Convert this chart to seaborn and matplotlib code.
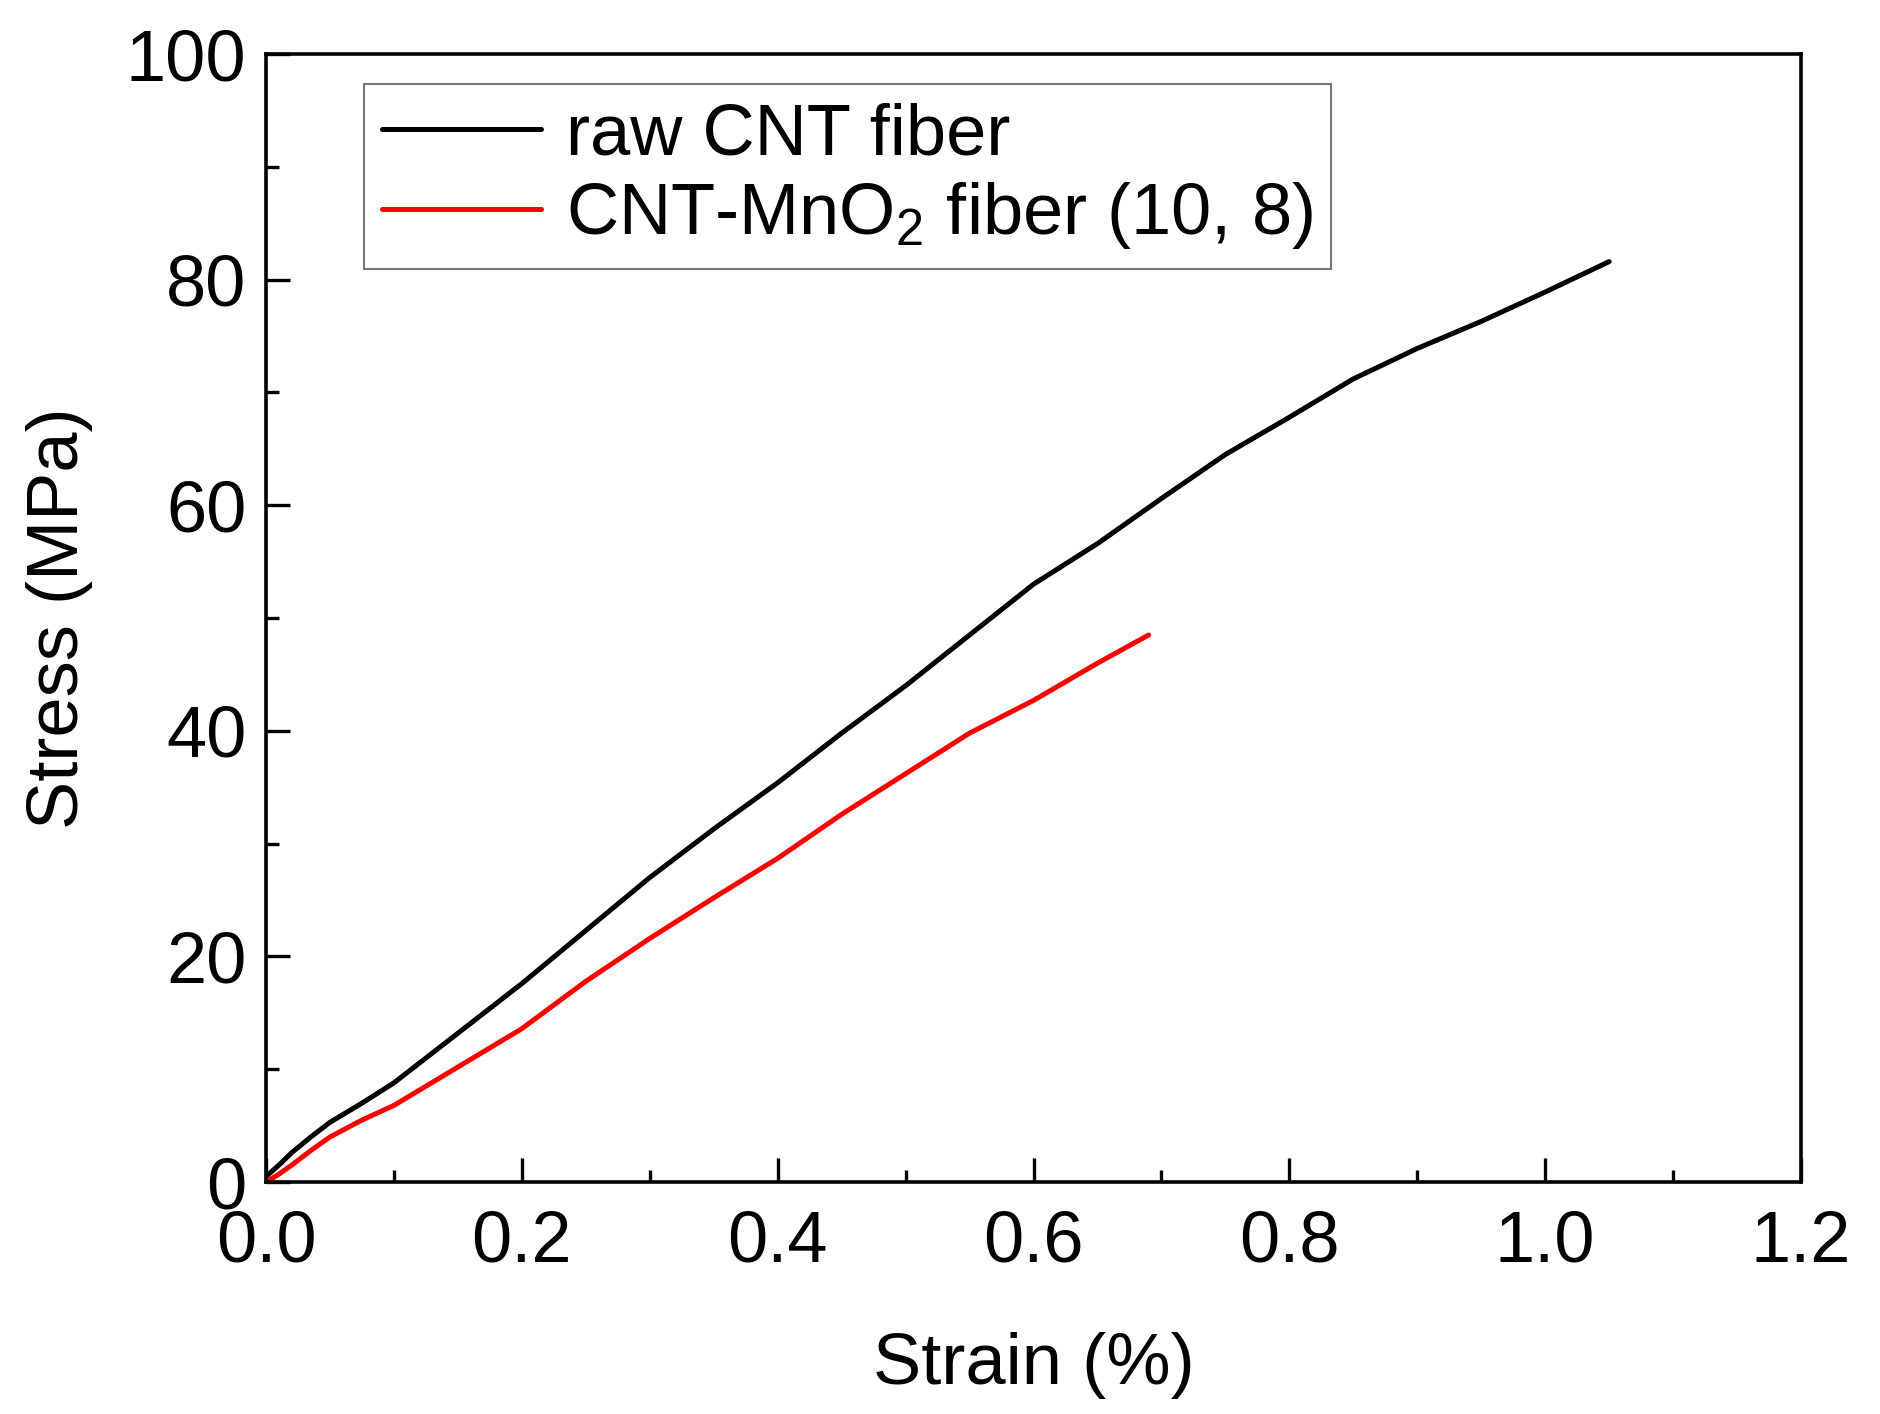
import numpy as np
import pandas as pd
import matplotlib
matplotlib.use("Agg")
import matplotlib.pyplot as plt
import seaborn as sns

# values
raw_strain = [0.0, 0.01, 0.02, 0.035, 0.05, 0.075, 0.1, 0.15, 0.2, 0.25, 0.3, 0.35, 0.4,
              0.45, 0.5, 0.55, 0.6, 0.65, 0.7, 0.75, 0.8, 0.85, 0.9, 0.95, 1.0, 1.05]
raw_stress = [0.5, 1.5, 2.6, 4.0, 5.3, 7.0, 8.8, 13.2, 17.6, 22.3, 27.0, 31.3, 35.4,
              39.8, 44.0, 48.5, 53.0, 56.6, 60.6, 64.5, 67.8, 71.2, 73.9, 76.3, 78.9, 81.6]

mno2_strain = [0.0, 0.01, 0.02, 0.035, 0.05, 0.075, 0.1, 0.15, 0.2, 0.25, 0.3, 0.35,
               0.4, 0.45, 0.5, 0.55, 0.6, 0.65, 0.69]
mno2_stress = [0.0, 0.7, 1.5, 2.8, 4.0, 5.5, 6.8, 10.2, 13.6, 17.8, 21.6, 25.2,
               28.7, 32.6, 36.2, 39.8, 42.7, 46.0, 48.5]

labels = ["raw CNT fiber", "CNT-MnO$_2$ fiber (10, 8)"]
colors = ["black", "#ff0000"]

df = pd.concat([
    pd.DataFrame({"strain": raw_strain, "stress": raw_stress, "sample": labels[0]}),
    pd.DataFrame({"strain": mno2_strain, "stress": mno2_stress, "sample": labels[1]}),
])

sns.set_theme(style="ticks")
plt.rcParams["font.family"] = ["Liberation Sans", "DejaVu Sans"]
plt.rcParams["mathtext.fontset"] = "custom"
plt.rcParams["mathtext.rm"] = "Liberation Sans"
plt.rcParams["text.color"] = "black"
plt.rcParams["axes.labelcolor"] = "black"

fig = plt.figure(figsize=(18.8, 14.14), dpi=100)
ax = fig.add_axes([0.1415, 0.164, 0.8165, 0.7978])

sns.lineplot(data=df, x="strain", y="stress", hue="sample", palette=colors,
             sort=False, estimator=None, linewidth=3.6, ax=ax)

ax.set_xlim(0, 1.2)
ax.set_ylim(0, 100)
ax.set_xticks(np.arange(0, 1.21, 0.2))
ax.set_xticks(np.arange(0.1, 1.2, 0.2), minor=True)
ax.set_yticks(np.arange(0, 101, 20))
ax.set_yticks(np.arange(10, 100, 20), minor=True)
ax.set_xticklabels(["%.1f" % v for v in np.arange(0, 1.21, 0.2)])

ax.tick_params(which="both", direction="in", width=2.4, colors="black",
               labelsize=52, top=False, right=False)
ax.tick_params(which="major", length=17)
ax.tick_params(axis="x", which="major", pad=20)
ax.tick_params(axis="y", which="major", pad=14)
ax.tick_params(which="minor", length=9)
for s in ax.spines.values():
    s.set_linewidth(2.6)
    s.set_color("black")

ax.set_xlabel("Strain (%)", fontsize=52, labelpad=40)
ax.set_ylabel("Stress (MPa)", fontsize=52, labelpad=24)

leg = ax.legend(loc="upper left", bbox_to_anchor=(0.064, 0.973), fontsize=52,
                frameon=True, fancybox=False, edgecolor="#555555",
                handlelength=2.2, handletextpad=0.35, borderpad=0.25,
                labelspacing=0.15, borderaxespad=0)
leg.get_frame().set_linewidth(1.5)
for line in leg.get_lines():
    line.set_linewidth(3.6)

fig.savefig("out.png", dpi=100, facecolor="white")
